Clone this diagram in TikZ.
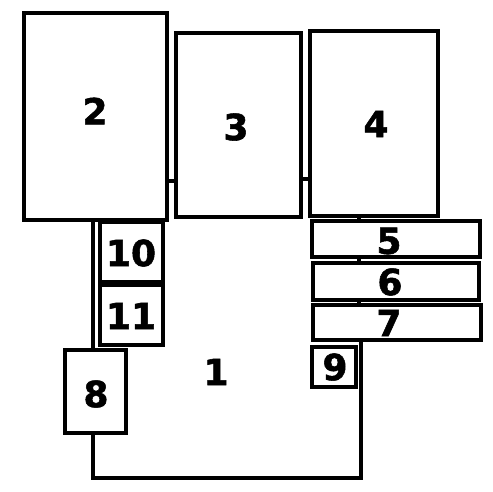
\documentclass[tikz,border=0pt]{standalone}
\usepackage{fontspec}
\setmainfont{DejaVu Sans}
\newfontfamily\lblfont[FakeBold=1.5]{DejaVu Sans Bold}
\begin{document}
\begin{tikzpicture}[x=1pt,y=-1pt,
  box/.style={draw=black, line width=3.2pt, inner sep=0pt, outer sep=0pt},
  lbl/.style={font=\lblfont\fontsize{36}{38}\selectfont, inner sep=0pt},
  conn/.style={draw=black, line width=3.4pt}]
\useasboundingbox (0,0) rectangle (493,491);
% boxes
\node[box, minimum width=143pt, minimum height=207pt] (n2) at (95.5,116.5) {};
\node[box, minimum width=125pt, minimum height=184pt] (n3) at (238.5,125) {};
\node[box, minimum width=128pt, minimum height=185pt] (n4) at (374,123.5) {};
\node[box, minimum width=168pt, minimum height=36pt] (n5) at (396,239) {};
\node[box, minimum width=166pt, minimum height=37pt] (n6) at (396,281.5) {};
\node[box, minimum width=168pt, minimum height=35pt] (n7) at (397,322.5) {};
\node[box, minimum width=44pt, minimum height=40pt] (n9) at (334,367) {};
\node[box, minimum width=63pt, minimum height=60pt] (n10) at (131.5,252) {};
\node[box, minimum width=63pt, minimum height=60pt] (n11) at (131.5,315) {};
\node[box, minimum width=61pt, minimum height=83pt] (n8) at (95.5,391.5) {};
% labels
\node[lbl] (l2) at (95,111) {2};
\node[lbl] (l3) at (236,127) {3};
\node[lbl] (l4) at (376,124) {4};
\node[lbl] (l5) at (389,241) {5};
\node[lbl] (l6) at (390,282) {6};
\node[lbl] (l7) at (389,323) {7};
\node[lbl] (l9) at (335,367) {9};
\node[lbl] (l10) at (131,253) {10};
\node[lbl] (l11) at (131,316) {11};
\node[lbl] (l8) at (96,394) {8};
\node[lbl] (n1) at (216,372) {1};
% connectors
\draw[conn] (n2.east |- 0,181) -- (n3.west |- 0,181);
\draw[conn] (n3.east |- 0,179) -- (n4.west |- 0,179);
\draw[conn] (n4.south -| 359,0) -- (n5.north -| 359,0);
\draw[conn] (n5.south -| 359,0) -- (n6.north -| 359,0);
\draw[conn] (n6.south -| 359,0) -- (n7.north -| 359,0);
\draw[conn] (n2.south -| 93,0) -- (n8.north -| 93,0);
\coordinate (c1) at (361,478);
\coordinate (c2) at (93,478);
\draw[conn] (n7.south -| 361,0) -- (c1) -- (c2) -- (n8.south -| 93,0);
\end{tikzpicture}
\end{document}
